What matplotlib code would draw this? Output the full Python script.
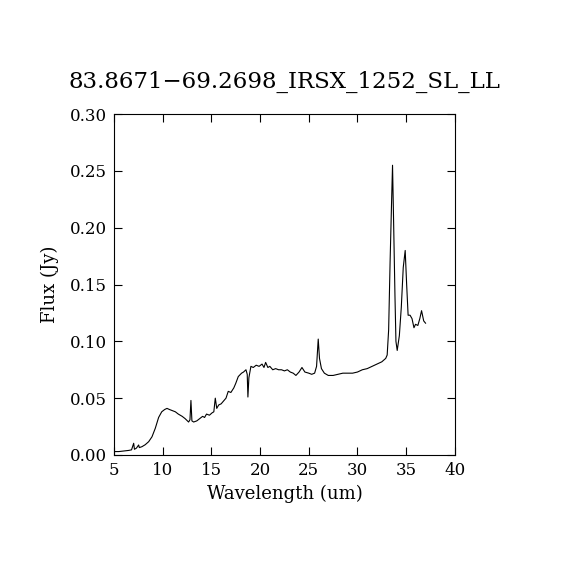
import matplotlib
matplotlib.use('Agg')
import matplotlib.pyplot as plt

# spectrum
wave = [5.0, 5.5, 6.0, 6.5, 6.8, 7.02, 7.1, 7.3, 7.53, 7.6, 7.87, 8.2, 8.56, 8.9,
        9.24, 9.58, 9.9, 10.2, 10.44, 10.7, 11.0, 11.3, 11.6, 12.0, 12.3, 12.66,
        12.8, 12.9, 13.0, 13.18, 13.5, 13.8, 14.1, 14.3, 14.5, 14.8, 15.06, 15.25,
        15.4, 15.55, 15.75, 16.0, 16.3, 16.5, 16.73, 17.0, 17.3, 17.5, 17.76, 18.1,
        18.3, 18.55, 18.68, 18.75, 18.85, 19.06, 19.3, 19.6, 19.9, 20.2, 20.4, 20.57,
        20.8, 21.0, 21.3, 21.6, 21.9, 22.2, 22.5, 22.8, 23.1, 23.4, 23.68, 24.0,
        24.3, 24.6, 25.0, 25.3, 25.6, 25.8, 25.97, 26.1, 26.3, 26.6, 27.0, 27.5,
        28.0, 28.5, 29.0, 29.5, 30.0, 30.5, 31.0, 31.5, 32.0, 32.5, 32.9, 33.05,
        33.2, 33.35, 33.5, 33.6, 33.7, 33.85, 33.95, 34.08, 34.3, 34.5, 34.7, 34.9,
        35.05, 35.2, 35.4, 35.6, 35.8, 35.96, 36.2, 36.4, 36.58, 36.8, 36.99]
flux = [0.003, 0.003, 0.0035, 0.004, 0.0045, 0.0103, 0.005, 0.006, 0.0088, 0.0065,
        0.0073, 0.009, 0.0117, 0.016, 0.0235, 0.033, 0.038, 0.040, 0.041, 0.040,
        0.039, 0.038, 0.036, 0.034, 0.032, 0.029, 0.031, 0.048, 0.030, 0.029,
        0.030, 0.032, 0.034, 0.033, 0.036, 0.035, 0.037, 0.038, 0.050, 0.041,
        0.044, 0.045, 0.048, 0.050, 0.056, 0.055, 0.059, 0.063, 0.069, 0.072,
        0.073, 0.075, 0.071, 0.051, 0.068, 0.078, 0.077, 0.079, 0.078, 0.080,
        0.077, 0.0815, 0.077, 0.078, 0.075, 0.076, 0.075, 0.075, 0.074, 0.075,
        0.073, 0.072, 0.070, 0.073, 0.077, 0.073, 0.072, 0.071, 0.072, 0.078,
        0.102, 0.085, 0.076, 0.072, 0.070, 0.070, 0.071, 0.072, 0.072, 0.072,
        0.073, 0.075, 0.076, 0.078, 0.080, 0.082, 0.085, 0.088, 0.11, 0.17,
        0.222, 0.255, 0.21, 0.14, 0.10, 0.092, 0.105, 0.13, 0.165, 0.180,
        0.15, 0.123, 0.123, 0.120, 0.112, 0.115, 0.114, 0.120, 0.127, 0.118, 0.116]

title = '83.8671\u221269.2698_IRSX_1252_SL_LL'
xticks = [5, 10, 15, 20, 25, 30, 35, 40]
yticks = [0.00, 0.05, 0.10, 0.15, 0.20, 0.25, 0.30]

plt.rcParams['font.family'] = ['DejaVu Serif']

fig = plt.figure(figsize=(5.7, 5.7), dpi=100)
ax = fig.add_axes([0.2, 0.2018, 0.598, 0.598])
ax.plot(wave, flux, color='black', linewidth=0.8)

ax.set_xlim(5, 40)
ax.set_ylim(0, 0.30)
ax.set_xticks(xticks)
ax.set_xticklabels([str(t) for t in xticks])
ax.set_yticks(yticks)
ax.set_yticklabels(['%.2f' % t for t in yticks])
ax.tick_params(direction='in', top=True, right=True, length=6, width=0.8,
               labelsize=12, pad=5)
for s in ax.spines.values():
    s.set_linewidth(0.8)

ax.set_xlabel('Wavelength (um)', fontsize=13, labelpad=4)
ax.set_ylabel('Flux (Jy)', fontsize=13, labelpad=8)
ax.set_title(title, fontsize=16.5, pad=19)

fig.savefig('out.png', dpi=100, facecolor='white')
